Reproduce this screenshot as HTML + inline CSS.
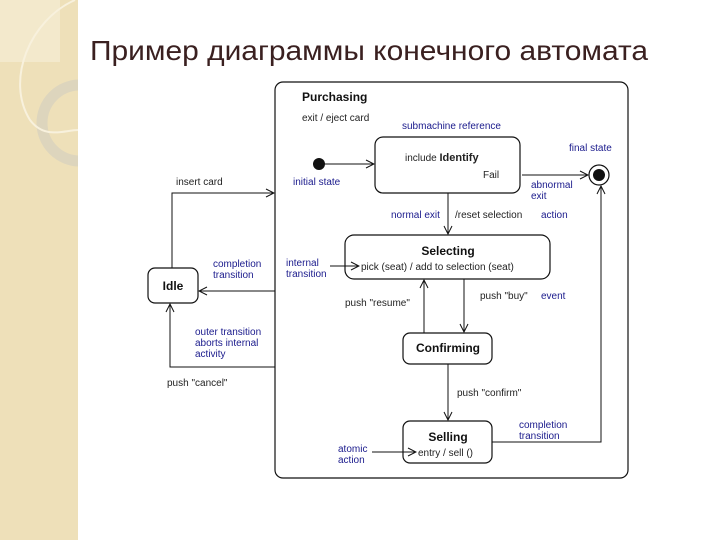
<!DOCTYPE html>
<html><head><meta charset="utf-8"><style>
html,body{margin:0;padding:0;background:#fff}
svg{display:block}
text{font-family:"Liberation Sans",sans-serif;font-size:10px;fill:#222}
.b{fill:#1a1a8c}
.h{font-weight:bold;font-size:12px;fill:#111}
</style></head><body>
<svg width="720" height="540" viewBox="0 0 720 540" xmlns="http://www.w3.org/2000/svg">
<defs><marker id="a" markerWidth="10" markerHeight="10" refX="9" refY="5" orient="auto" markerUnits="userSpaceOnUse"><path d="M1,1 L9,5 L1,9" fill="none" stroke="#111" stroke-width="1"/></marker>
<clipPath id="sb"><rect x="0" y="0" width="78" height="540"/></clipPath></defs>
<rect x="0" y="0" width="78" height="540" fill="#eee0b9"/>
<g clip-path="url(#sb)">
<rect x="0" y="0" width="60" height="62" fill="#f3e9cc"/>
<circle cx="80" cy="123" r="38" fill="none" stroke="#ddd5bd" stroke-width="11"/>
<path d="M75,0 C30,20 5,80 30,120 C45,140 65,130 78,130" fill="none" stroke="#f8f1dd" stroke-width="2"/>
</g>
<text x="90" y="60" textLength="558" lengthAdjust="spacingAndGlyphs" style="font-size:28px;fill:#3a2020">Пример диаграммы конечного автомата</text>
<g fill="none" stroke="#111" stroke-width="1.2">
<rect x="275" y="82" width="353" height="396" rx="8"/>
<rect x="375" y="137" width="145" height="56" rx="8"/>
<rect x="345" y="235" width="205" height="44" rx="9"/>
<rect x="148" y="268" width="50" height="35" rx="7"/>
<rect x="403" y="333" width="89" height="31" rx="7"/>
<rect x="403" y="421" width="89" height="42" rx="7"/>
<circle cx="599" cy="175" r="10"/>
</g>
<circle cx="319" cy="164" r="6" fill="#111"/>
<circle cx="599" cy="175" r="6" fill="#111"/>
<g fill="none" stroke="#111" stroke-width="1">
<path d="M325,164 H374" marker-end="url(#a)"/>
<path d="M522,175 H588" marker-end="url(#a)"/>
<path d="M448,193 V234" marker-end="url(#a)"/>
<path d="M275,291 H199" marker-end="url(#a)"/>
<path d="M172,268 V193 H274" marker-end="url(#a)"/>
<path d="M275,367 H170 V304" marker-end="url(#a)"/>
<path d="M424,333 V280" marker-end="url(#a)"/>
<path d="M464,279 V332" marker-end="url(#a)"/>
<path d="M448,364 V420" marker-end="url(#a)"/>
<path d="M492,442 H601 V186" marker-end="url(#a)"/>
<path d="M330,266 H359" marker-end="url(#a)"/>
<path d="M372,452 H416" marker-end="url(#a)"/>
</g>
<text x="302" y="101" class="h">Purchasing</text>
<text x="302" y="121">exit / eject card</text>
<text x="402" y="129" class="b">submachine reference</text>
<text x="405" y="161">include <tspan style="font-weight:bold;font-size:11px">Identify</tspan></text>
<text x="483" y="178">Fail</text>
<text x="293" y="185" class="b">initial state</text>
<text x="569" y="151" class="b">final state</text>
<text x="531" y="188" class="b">abnormal</text>
<text x="531" y="199" class="b">exit</text>
<text x="391" y="218" class="b">normal exit</text>
<text x="455" y="218">/reset selection</text>
<text x="541" y="218" class="b">action</text>
<text x="448" y="255" class="h" text-anchor="middle">Selecting</text>
<text x="361" y="270">pick (seat) / add to selection (seat)</text>
<text x="286" y="266" class="b">internal</text>
<text x="286" y="277" class="b">transition</text>
<text x="173" y="290" class="h" text-anchor="middle">Idle</text>
<text x="213" y="267" class="b">completion</text>
<text x="213" y="278" class="b">transition</text>
<text x="176" y="185">insert card</text>
<text x="195" y="335" class="b">outer transition</text>
<text x="195" y="346" class="b">aborts internal</text>
<text x="195" y="357" class="b">activity</text>
<text x="167" y="386">push "cancel"</text>
<text x="345" y="306">push "resume"</text>
<text x="480" y="299">push "buy"</text>
<text x="541" y="299" class="b">event</text>
<text x="448" y="352" class="h" text-anchor="middle">Confirming</text>
<text x="457" y="396">push "confirm"</text>
<text x="448" y="441" class="h" text-anchor="middle">Selling</text>
<text x="418" y="456">entry / sell ()</text>
<text x="338" y="452" class="b">atomic</text>
<text x="338" y="463" class="b">action</text>
<text x="519" y="428" class="b">completion</text>
<text x="519" y="439" class="b">transition</text>
</svg>
</body></html>
